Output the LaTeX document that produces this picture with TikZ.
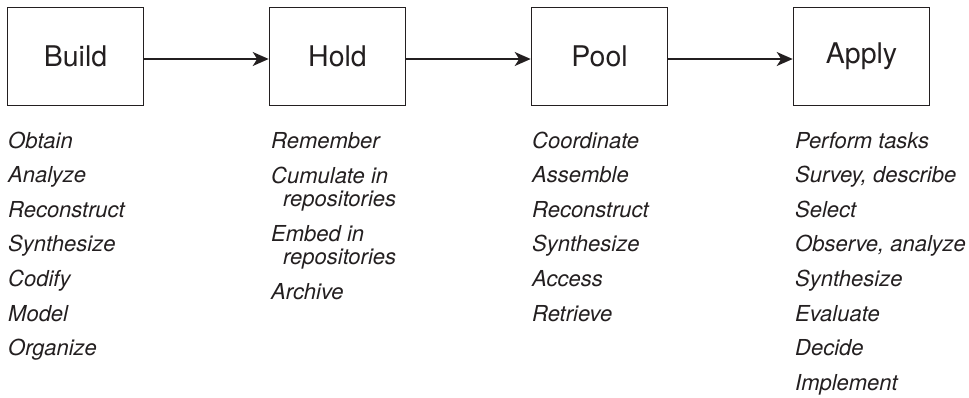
\documentclass[tikz,border=0pt]{standalone}
\usepackage{fontspec}
\setmainfont{TeX Gyre Heros}
\usetikzlibrary{arrows.meta}
\definecolor{ink}{RGB}{35,31,32}
\begin{document}
\begin{tikzpicture}[x=1pt,y=-1pt,
  stage/.style={draw=ink, line width=1.6pt, minimum width=136pt, minimum height=98pt, inner sep=0pt, font=\fontsize{28.5}{32}\selectfont, text=ink},
  flow/.style={draw=ink, line width=1.7pt, -{Stealth[length=16pt,width=14pt,inset=4.5pt]}},
  item/.style={anchor=base west, inner sep=0pt, font=\fontsize{22}{24}\selectfont\itshape, text=ink}]
\useasboundingbox (0,0) rectangle (969,397);
\node[stage] (build) at (75.5,56.5) {Build};
\node[stage] (hold)  at (337.5,56.5) {Hold};
\node[stage] (pool)  at (599.5,56.5) {Pool};
\node[stage] (apply) at (861.5,56.5) {Apply};
\draw[flow] ([yshift=-2.5pt]build.east) -- ([yshift=-2.5pt]hold.west);
\draw[flow] ([yshift=-2.5pt]hold.east) -- ([yshift=-2.5pt]pool.west);
\draw[flow] ([yshift=-2.5pt]pool.east) -- ([yshift=-2.5pt]apply.west);
\foreach \t [count=\i from 0] in {Obtain,Analyze,Reconstruct,Synthesize,Codify,Model,Organize}
  \node[item] (b\i) at (8,{148+34.6*\i}) {\t};
\node[item] (h0) at (271,148) {Remember};
\node[item] (h1) at (271,183) {Cumulate in};
\node[item] (h1b) at (283,206) {repositories};
\node[item] (h2) at (271,241) {Embed in};
\node[item] (h2b) at (283,264) {repositories};
\node[item] (h3) at (271,299) {Archive};
\foreach \t [count=\i from 0] in {Coordinate,Assemble,Reconstruct,Synthesize,Access,Retrieve}
  \node[item] (p\i) at (532,{148+34.6*\i}) {\t};
\foreach \t [count=\i from 0] in {Perform tasks,{Survey, describe},Select,{Observe, analyze},Synthesize,Evaluate,Decide,Implement}
  \node[item] (a\i) at (795,{148+34.6*\i}) {\t};
\end{tikzpicture}
\end{document}
